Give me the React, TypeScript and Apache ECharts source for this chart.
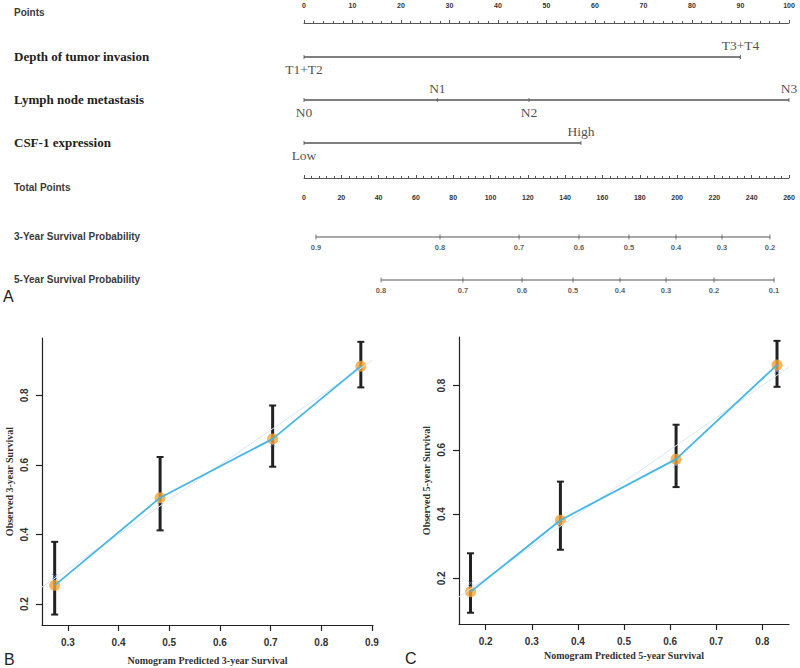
import { useEffect, useRef } from "react";
import * as echarts from "echarts";

// ---------- Nomogram data ----------
const rowLabels = [
  "Points",
  "Depth of tumor invasion",
  "Lymph node metastasis",
  "CSF-1 expression",
  "Total Points",
  "3-Year Survival Probability",
  "5-Year Survival Probability",
];
const pointsMin = 0;
const pointsMax = 100;
const totalMin = 0;
const totalMax = 260;

const depthLevels = ["T1+T2", "T3+T4"];
const depthPoints = [0, 90];
const lymphLevels = ["N0", "N1", "N2", "N3"];
const lymphPoints = [0, 27.5, 46.4, 100];
const csfLevels = ["Low", "High"];
const csfPoints = [0, 57.1];

const surv3Labels = ["0.9", "0.8", "0.7", "0.6", "0.5", "0.4", "0.3", "0.2"];
const surv3Total = [6.4, 72.9, 115.3, 147.4, 174.2, 199.4, 224.1, 249.8];
const surv5Labels = ["0.8", "0.7", "0.6", "0.5", "0.4", "0.3", "0.2", "0.1"];
const surv5Total = [41.3, 85.2, 116.9, 144.2, 169.4, 194.1, 219.8, 252.0];

// ---------- Calibration B (3-year) ----------
const predB = [0.274, 0.482, 0.704, 0.878];
const obsB = [0.254, 0.506, 0.675, 0.884];
const loB = [0.17, 0.412, 0.595, 0.823];
const hiB = [0.379, 0.623, 0.771, 0.954];
const corrB = [0.279, 0.495, 0.66, 0.88];
const xTicksB = [0.3, 0.4, 0.5, 0.6, 0.7, 0.8, 0.9];
const yTicksB = [0.2, 0.4, 0.6, 0.8];
const xRangeB = [0.249, 0.902];
const yRangeB = [0.14, 0.965];

// ---------- Calibration C (5-year) ----------
const predC = [0.167, 0.362, 0.613, 0.832];
const obsC = [0.158, 0.381, 0.571, 0.864];
const loC = [0.093, 0.289, 0.484, 0.796];
const hiC = [0.278, 0.501, 0.678, 0.939];
const corrC = [0.185, 0.37, 0.553, 0.845];
const xTicksC = [0.2, 0.3, 0.4, 0.5, 0.6, 0.7, 0.8];
const yTicksC = [0.2, 0.4, 0.6, 0.8];
const xRangeC = [0.142, 0.858];
const yRangeC = [0.058, 0.951];

// ---------- layout ----------
const NOM_LEFT = 304;
const NOM_W = 485;
const rowY = [13, 57, 100, 143, 188, 237, 280];
const SANS = "Liberation Sans, Arial, sans-serif";
const SERIF = "Liberation Serif, Times New Roman, serif";
const LINE_COLOR = "#555";

function buildOption() {
  const grid: any[] = [];
  const xAxis: any[] = [];
  const yAxis: any[] = [];
  const series: any[] = [];
  const graphic: any[] = [];

  const addGrid = (g: any) => {
    grid.push(g);
    return grid.length - 1;
  };

  // Points axis
  {
    const gi = addGrid({ left: NOM_LEFT, width: NOM_W, top: rowY[0], height: 20 });
    xAxis.push({
      gridIndex: gi,
      type: "value",
      min: pointsMin,
      max: pointsMax,
      interval: 10,
      position: "top",
      axisLine: { lineStyle: { color: LINE_COLOR, width: 1 } },
      axisTick: { length: 3, lineStyle: { color: LINE_COLOR } },
      minorTick: { show: true, splitNumber: 5, length: 2, lineStyle: { color: LINE_COLOR } },
      axisLabel: { margin: 4, fontSize: 7, fontWeight: "bold", color: "#333", fontFamily: SANS },
      splitLine: { show: false },
      minorSplitLine: { show: false },
    });
    yAxis.push({ gridIndex: gi, type: "value", show: false, min: -1, max: 1 });
  }

  // Variable rows
  const addVarRow = (y: number, levels: string[], pts: number[]) => {
    const gi = addGrid({ left: NOM_LEFT, width: NOM_W, top: y - 10, height: 20 });
    const ai = xAxis.length;
    xAxis.push({ gridIndex: gi, type: "value", show: false, min: pointsMin, max: pointsMax });
    yAxis.push({ gridIndex: gi, type: "value", show: false, min: -1, max: 1 });
    series.push({
      type: "line",
      xAxisIndex: ai,
      yAxisIndex: ai,
      data: [
        [Math.min(...pts), 0],
        [Math.max(...pts), 0],
      ],
      symbol: "none",
      silent: true,
      lineStyle: { color: LINE_COLOR, width: 1.3 },
    });
    series.push({
      type: "scatter",
      xAxisIndex: ai,
      yAxisIndex: ai,
      symbol: "rect",
      symbolSize: [1, 4],
      itemStyle: { color: LINE_COLOR },
      silent: true,
      data: levels.map((name, i) => ({
        name,
        value: [pts[i], 0],
        label: { position: i % 2 === 0 ? "bottom" : "top" },
      })),
      label: {
        show: true,
        formatter: "{b}",
        fontFamily: SERIF,
        fontSize: 13.5,
        color: "#222",
        distance: 3,
      },
    });
  };
  addVarRow(rowY[1], depthLevels, depthPoints);
  addVarRow(rowY[2], lymphLevels, lymphPoints);
  addVarRow(rowY[3], csfLevels, csfPoints);

  // Total points axis
  {
    const gi = addGrid({ left: NOM_LEFT, width: NOM_W, top: rowY[4] - 20, height: 20 });
    xAxis.push({
      gridIndex: gi,
      type: "value",
      min: totalMin,
      max: totalMax,
      interval: 20,
      position: "bottom",
      axisLine: { lineStyle: { color: LINE_COLOR, width: 1 } },
      axisTick: { length: 3, inside: true, lineStyle: { color: LINE_COLOR } },
      minorTick: { show: true, splitNumber: 5, length: 2, lineStyle: { color: LINE_COLOR } },
      axisLabel: { margin: 6, fontSize: 7, fontWeight: "bold", color: "#333", fontFamily: SANS },
      splitLine: { show: false },
      minorSplitLine: { show: false },
    });
    yAxis.push({ gridIndex: gi, type: "value", show: false, min: -1, max: 1 });
  }

  // Survival probability rows
  const addSurvRow = (y: number, labels: string[], total: number[]) => {
    const gi = addGrid({ left: NOM_LEFT, width: NOM_W, top: y - 10, height: 20 });
    const ai = xAxis.length;
    xAxis.push({ gridIndex: gi, type: "value", show: false, min: totalMin, max: totalMax });
    yAxis.push({ gridIndex: gi, type: "value", show: false, min: -1, max: 1 });
    series.push({
      type: "line",
      xAxisIndex: ai,
      yAxisIndex: ai,
      data: [
        [total[0], 0],
        [total[total.length - 1], 0],
      ],
      symbol: "none",
      silent: true,
      lineStyle: { color: LINE_COLOR, width: 1.2 },
    });
    series.push({
      type: "scatter",
      xAxisIndex: ai,
      yAxisIndex: ai,
      symbol: "rect",
      symbolSize: [1, 5],
      itemStyle: { color: LINE_COLOR },
      silent: true,
      data: labels.map((name, i) => ({ name, value: [total[i], 0] })),
      label: {
        show: true,
        position: "bottom",
        formatter: "{b}",
        fontFamily: SANS,
        fontWeight: "bold",
        fontSize: 7.5,
        color: "#333",
        distance: 4,
      },
    });
  };
  addSurvRow(rowY[5], surv3Labels, surv3Total);
  addSurvRow(rowY[6], surv5Labels, surv5Total);

  // Row labels
  rowLabels.forEach((t, i) => {
    const serif = i >= 1 && i <= 3;
    graphic.push({
      type: "text",
      x: 14,
      y: rowY[i] - 1,
      silent: true,
      style: {
        text: t,
        fill: serif ? "#222" : "#3a3a3a",
        fontFamily: serif ? SERIF : SANS,
        fontWeight: "bold",
        fontSize: serif ? 13 : 10,
        verticalAlign: "middle",
        align: "left",
      },
    });
  });

  // Calibration panels
  const addCal = (
    g: any,
    xr: number[],
    yr: number[],
    xt: number[],
    yt: number[],
    pred: number[],
    obs: number[],
    lo: number[],
    hi: number[],
    corr: number[],
    xName: string,
    yName: string,
    xGap: number,
    yGap: number
  ) => {
    const gi = addGrid(g);
    const ai = xAxis.length;
    const fmt = (v: number) => String(Math.round(v * 10) / 10);
    xAxis.push({
      gridIndex: gi,
      type: "value",
      min: xr[0],
      max: xr[1],
      axisLine: { onZero: false, lineStyle: { color: "#222", width: 1.2 } },
      axisTick: { customValues: xt, length: 6, lineStyle: { color: "#222", width: 1.2 } },
      axisLabel: {
        customValues: xt,
        formatter: fmt,
        margin: 12,
        fontSize: 10,
        fontWeight: "bold",
        color: "#333",
        fontFamily: SANS,
      },
      splitLine: { show: false },
      name: xName,
      nameLocation: "middle",
      nameGap: xGap,
      nameTextStyle: { fontFamily: SERIF, fontWeight: "bold", fontSize: 10, color: "#333" },
    });
    yAxis.push({
      gridIndex: gi,
      type: "value",
      min: yr[0],
      max: yr[1],
      axisLine: { show: true, onZero: false, lineStyle: { color: "#222", width: 1.2 } },
      axisTick: { show: true, customValues: yt, length: 6, lineStyle: { color: "#222", width: 1.2 } },
      axisLabel: {
        customValues: yt,
        formatter: fmt,
        rotate: 90,
        margin: 13,
        fontSize: 10,
        fontWeight: "bold",
        color: "#333",
        fontFamily: SANS,
      },
      splitLine: { show: false },
      name: yName,
      nameLocation: "middle",
      nameGap: yGap,
      nameTextStyle: { fontFamily: SERIF, fontWeight: "bold", fontSize: 10, color: "#333" },
    });
    const lo0 = Math.max(xr[0], yr[0]);
    const hi0 = Math.min(xr[1], yr[1]);
    series.push({
      type: "line",
      xAxisIndex: ai,
      yAxisIndex: ai,
      data: [
        [lo0, lo0],
        [hi0, hi0],
      ],
      symbol: "none",
      silent: true,
      lineStyle: { color: "#d6e9f3", width: 1 },
    });
    series.push({
      type: "custom",
      xAxisIndex: ai,
      yAxisIndex: ai,
      silent: true,
      data: pred.map((p, i) => [p, lo[i], hi[i]]),
      renderItem: (_params: any, api: any) => {
        const x = api.value(0);
        const a = api.coord([x, api.value(1)]);
        const b = api.coord([x, api.value(2)]);
        const cw = 3.5;
        const st = { stroke: "#222", lineWidth: 3 };
        return {
          type: "group",
          children: [
            { type: "line", shape: { x1: a[0], y1: a[1], x2: b[0], y2: b[1] }, style: st },
            { type: "line", shape: { x1: a[0] - cw, y1: a[1], x2: a[0] + cw, y2: a[1] }, style: { stroke: "#222", lineWidth: 2 } },
            { type: "line", shape: { x1: b[0] - cw, y1: b[1], x2: b[0] + cw, y2: b[1] }, style: { stroke: "#222", lineWidth: 2 } },
          ],
        };
      },
    });
    series.push({
      type: "line",
      xAxisIndex: ai,
      yAxisIndex: ai,
      data: pred.map((p, i) => [p, obs[i]]),
      symbol: "none",
      silent: true,
      lineStyle: { color: "#45b6e6", width: 1.8 },
    });
    series.push({
      type: "scatter",
      xAxisIndex: ai,
      yAxisIndex: ai,
      data: pred.map((p, i) => [p, corr[i]]),
      symbol: "path://M0,0L10,10M10,0L0,10",
      symbolSize: 5,
      silent: true,
      itemStyle: { color: "none", borderColor: "#6e7fd8", borderWidth: 1 },
    });
    series.push({
      type: "scatter",
      xAxisIndex: ai,
      yAxisIndex: ai,
      data: pred.map((p, i) => [p, obs[i]]),
      symbol: "circle",
      symbolSize: 11,
      silent: true,
      itemStyle: { color: "#f7a232" },
    });
  };

  addCal(
    { left: 42, top: 338, width: 331, height: 287 },
    xRangeB,
    yRangeB,
    xTicksB,
    yTicksB,
    predB,
    obsB,
    loB,
    hiB,
    corrB,
    "Nomogram Predicted 3-year Survival",
    "Observed 3-year Survival",
    30,
    28
  );
  addCal(
    { left: 459, top: 337, width: 330, height: 287 },
    xRangeC,
    yRangeC,
    xTicksC,
    yTicksC,
    predC,
    obsC,
    loC,
    hiC,
    corrC,
    "Nomogram Predicted 5-year Survival",
    "Observed 5-year Survival",
    26,
    28
  );

  // Panel letters
  const letter = (t: string, x: number, y: number) =>
    graphic.push({
      type: "text",
      x,
      y,
      silent: true,
      style: { text: t, fill: "#222", fontFamily: SANS, fontSize: 16, verticalAlign: "middle", align: "left" },
    });
  letter("A", 3, 296);
  letter("B", 4, 659);
  letter("C", 405, 658);

  return {
    animation: false,
    backgroundColor: "#fff",
    grid,
    xAxis,
    yAxis,
    series,
    graphic,
  };
}

export default function App() {
  const ref = useRef<HTMLDivElement>(null);
  useEffect(() => {
    if (!ref.current) return;
    const chart = echarts.init(ref.current, null, { renderer: "svg" });
    chart.setOption(buildOption());
    return () => chart.dispose();
  }, []);
  return (
    <div
      ref={ref}
      style={{ position: "fixed", left: 0, top: 0, width: 800, height: 668, background: "#fff" }}
    />
  );
}
